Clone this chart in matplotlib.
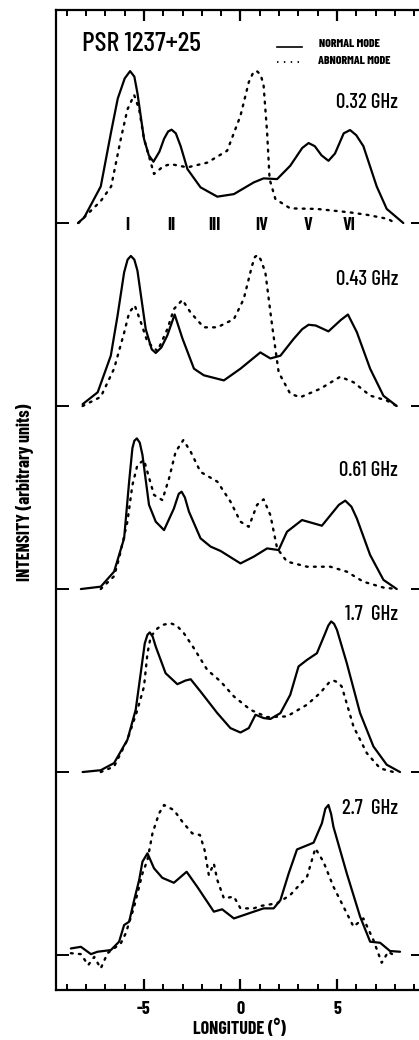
import matplotlib
matplotlib.use("Agg")
import matplotlib.pyplot as plt
import numpy as np

FONT = ['Barlow Condensed', 'DejaVu Sans']

# ---- data (longitude in degrees, intensity in arbitrary units) ----
freq_labels = ["0.32 GHz", "0.43 GHz", "0.61 GHz", "1.7  GHz", "2.7  GHz"]
component_labels = ["I", "II", "III", "IV", "V", "VI"]
component_lon = [-5.85, -3.57, -1.35, 1.09, 3.52, 5.65]
xtick_values = [-5, 0, 5]
xtick_labels = ["-5", "0", "5"]

# 0.32 GHz
n032_lon = [-8.42, -8.1, -7.24, -6.7, -6.36, -6.0, -5.72, -5.5, -5.34, -5.0, -4.75, -4.51, -4.2, -3.96,
            -3.75, -3.57, -3.35, -3.1, -2.75, -2.07, -1.2, -0.34, 0.69, 1.2, 1.9, 2.58, 3.2, 3.53,
            3.85, 4.2, 4.56, 4.9, 5.35, 5.68, 6.0, 6.37, 7.06, 7.58, 8.44]
n032_int = [0.0, 0.03, 0.20, 0.50, 0.68, 0.79, 0.83, 0.80, 0.71, 0.46, 0.37, 0.335, 0.39, 0.46,
            0.50, 0.51, 0.49, 0.42, 0.295, 0.195, 0.144, 0.158, 0.222, 0.244, 0.24, 0.313, 0.41, 0.437,
            0.42, 0.37, 0.34, 0.38, 0.49, 0.508, 0.48, 0.42, 0.20, 0.077, 0.0]
a032_lon = [-8.4, -7.24, -6.7, -6.2, -5.86, -5.51, -5.25, -5.0, -4.48, -4.0, -3.62, -2.75, -1.72,
            -0.69, 0.0, 0.43, 0.65, 0.83, 1.05, 1.2, 1.38, 1.51, 1.81, 2.58, 3.96, 5.68, 6.55, 7.66, 8.0]
a032_int = [0.0, 0.12, 0.20, 0.46, 0.62, 0.70, 0.62, 0.46, 0.268, 0.31, 0.322, 0.304, 0.33,
            0.395, 0.586, 0.769, 0.82, 0.832, 0.81, 0.75, 0.496, 0.24, 0.131, 0.08, 0.077, 0.058, 0.045,
            0.022, 0.0]

# 0.43 GHz
n043_lon = [-8.18, -7.4, -6.72, -6.37, -6.03, -5.85, -5.68, -5.5, -5.34, -4.91, -4.6, -4.39, -4.1,
            -3.79, -3.41, -3.01, -2.41, -1.9, -0.86, 0.0, 1.03, 1.55, 2.07, 2.75, 3.2, 3.53, 3.9, 4.56,
            5.2, 5.57, 6.03, 6.72, 7.41, 8.1]
n043_int = [0.01, 0.075, 0.275, 0.494, 0.73, 0.80, 0.82, 0.80, 0.74, 0.42, 0.31, 0.29, 0.32,
            0.386, 0.50, 0.37, 0.204, 0.168, 0.14, 0.204, 0.293, 0.26, 0.275, 0.366, 0.42, 0.444, 0.44,
            0.408, 0.47, 0.50, 0.404, 0.204, 0.056, 0.0]
a043_lon = [-8.18, -7.24, -6.55, -6.03, -5.77, -5.48, -5.17, -4.82, -4.3, -3.79, -3.45, -3.01, -2.58,
            -1.9, -1.2, -0.34, 0.17, 0.6, 0.75, 0.89, 1.05, 1.29, 1.64, 1.98, 2.58, 3.1, 4.13, 5.17,
            5.86, 6.72, 7.58, 8.1]
a043_int = [0.0, 0.05, 0.204, 0.40, 0.51, 0.55, 0.46, 0.35, 0.30, 0.42, 0.53, 0.58, 0.51,
            0.43, 0.43, 0.475, 0.585, 0.767, 0.815, 0.825, 0.80, 0.73, 0.44, 0.184, 0.067, 0.048,
            0.094, 0.16, 0.13, 0.057, 0.03, 0.0]

# 0.61 GHz
n061_lon = [-8.27, -7.24, -6.55, -6.03, -5.77, -5.6, -5.5, -5.37, -5.22, -5.08, -4.74, -4.39, -3.96,
            -3.45, -3.2, -3.05, -2.88, -2.67, -2.07, -1.55, -1.03, 0.0, 0.69, 1.38, 1.98, 2.41, 3.19,
            4.22, 5.1, 5.43, 5.75, 6.03, 6.72, 7.41, 8.1]
n061_int = [0.0, 0.013, 0.095, 0.277, 0.587, 0.77, 0.81, 0.823, 0.80, 0.733, 0.46, 0.368, 0.322,
            0.44, 0.52, 0.532, 0.50, 0.423, 0.277, 0.232, 0.208, 0.14, 0.177, 0.222, 0.213, 0.313, 0.377,
            0.346, 0.46, 0.483, 0.45, 0.386, 0.186, 0.05, 0.0]
a061_lon = [-7.24, -6.55, -6.29, -5.86, -5.6, -5.34, -5.0, -4.48, -4.05, -3.7, -3.36, -2.96, -2.58,
            -2.07, -1.2, -0.52, 0.0, 0.43, 0.86, 1.2, 1.55, 1.9, 2.41, 3.45, 4.65, 5.51, 6.37, 7.41, 8.1]
a061_int = [0.0, 0.07, 0.168, 0.368, 0.568, 0.678, 0.705, 0.514, 0.486, 0.605, 0.75, 0.814, 0.75,
            0.64, 0.587, 0.478, 0.368, 0.34, 0.46, 0.49, 0.404, 0.222, 0.15, 0.122, 0.122, 0.095, 0.04,
            0.008, 0.0]

# 1.7 GHz
n17_lon = [-8.18, -7.24, -6.55, -5.86, -5.43, -5.17, -4.96, -4.82, -4.7, -4.55, -4.39, -3.88, -3.27,
           -2.85, -2.58, -2.07, -1.2, -0.52, 0.0, 0.43, 0.78, 1.2, 1.55, 2.07, 2.58, 3.01, 3.45, 3.96,
           4.39, 4.55, 4.7, 4.85, 5.0, 5.51, 6.2, 6.89, 7.58, 8.27]
n17_int = [0.0, 0.01, 0.049, 0.176, 0.34, 0.54, 0.703, 0.75, 0.763, 0.74, 0.685, 0.54, 0.48,
           0.50, 0.507, 0.44, 0.322, 0.24, 0.216, 0.24, 0.313, 0.295, 0.29, 0.322, 0.422, 0.577, 0.613,
           0.649, 0.758, 0.80, 0.823, 0.81, 0.777, 0.595, 0.322, 0.14, 0.04, 0.0]
a17_lon = [-7.24, -6.55, -5.86, -5.34, -5.0, -4.82, -4.65, -4.3, -4.0, -3.62, -3.3, -2.93, -2.41,
           -1.72, -1.03, -0.34, 0.52, 1.38, 2.41, 3.45, 4.13, 4.6, 4.82, 5.05, 5.25, 5.86, 6.55,
           7.24, 7.93]
a17_int = [0.0, 0.03, 0.176, 0.34, 0.466, 0.649, 0.74, 0.785, 0.805, 0.813, 0.80, 0.758, 0.676,
           0.558, 0.495, 0.413, 0.34, 0.30, 0.304, 0.368, 0.432, 0.49, 0.50, 0.49, 0.467, 0.248, 0.103,
           0.02, 0.0]

# 2.7 GHz
n27_lon = [-8.79, -8.27, -7.75, -7.41, -6.72, -6.29, -6.03, -5.77, -5.51, -5.25, -5.08, -4.82, -4.48,
           -4.05, -3.45, -2.79, -2.24, -1.38, -0.95, -0.34, 0.69, 1.2, 1.72, 2.07, 2.5, 2.93, 3.79,
           4.22, 4.4, 4.56, 4.7, 4.82, 5.51, 6.2, 6.72, 7.24, 7.75, 8.27]
n27_int = [0.036, 0.045, 0.005, 0.018, 0.027, 0.073, 0.164, 0.182, 0.30, 0.41, 0.51, 0.556, 0.474,
           0.422, 0.395, 0.455, 0.373, 0.237, 0.25, 0.20, 0.237, 0.255, 0.255, 0.30, 0.446, 0.577, 0.614,
           0.72, 0.80, 0.82, 0.77, 0.70, 0.446, 0.21, 0.073, 0.067, 0.022, 0.018]
a27_lon = [-8.79, -8.27, -7.89, -7.58, -7.24, -6.89, -6.2, -5.94, -5.51, -5.08, -4.82, -4.56, -4.22,
           -3.96, -3.45, -3.01, -2.5, -2.1, -1.86, -1.64, -1.38, -1.2, -0.86, -0.34, 0.0, 0.69, 1.03,
           1.9, 2.58, 3.45, 3.88, 4.3, 4.82, 5.34, 5.86, 6.37, 6.89, 7.32, 7.66, 8.1]
a27_int = [0.01, 0.005, -0.055, -0.01, -0.073, 0.01, 0.064, 0.12, 0.264, 0.446, 0.519, 0.665, 0.774,
           0.82, 0.792, 0.728, 0.665, 0.656, 0.574, 0.437, 0.50, 0.41, 0.31, 0.319, 0.255, 0.255, 0.268,
           0.283, 0.328, 0.428, 0.583, 0.51, 0.373, 0.264, 0.155, 0.20, 0.082, -0.042, 0.018, -0.01]

normal_lon = [n032_lon, n043_lon, n061_lon, n17_lon, n27_lon]
normal_int = [n032_int, n043_int, n061_int, n17_int, n27_int]
abnormal_lon = [a032_lon, a043_lon, a061_lon, a17_lon, a27_lon]
abnormal_int = [a032_int, a043_int, a061_int, a17_int, a27_int]

# ---- figure ----
W, H = 419, 1040
fig = plt.figure(figsize=(W / 100, H / 100), dpi=100)
ax_left, ax_right, ax_top, ax_bot = 56, 423, 10, 990
ax = fig.add_axes([ax_left / W, 1 - ax_bot / H, (ax_right - ax_left) / W, (ax_bot - ax_top) / H])

n_panels = len(freq_labels)
offsets = [n_panels - 1 - i for i in range(n_panels)]  # top panel highest

DOT = (0, (0.8, 2.6))
for i in range(n_panels):
    off = offsets[i]
    ax.plot(normal_lon[i], np.asarray(normal_int[i]) + off, color='black', lw=1.6,
            solid_joinstyle='round', solid_capstyle='round')
    ax.plot(abnormal_lon[i], np.asarray(abnormal_int[i]) + off, color='black', lw=1.7,
            linestyle=DOT, dash_capstyle='round')

ax.set_xlim(-9.56, 9.46)
ax.set_ylim(-0.191, 5.164)

for s in ['left', 'bottom', 'top']:
    ax.spines[s].set_linewidth(1.6)
ax.spines['right'].set_visible(False)

ax.set_xticks(xtick_values)
ax.set_xticklabels(xtick_labels, fontfamily=FONT, fontweight='bold', fontsize=13)
ax.set_xticks(np.arange(-9, 10, 1), minor=True)
ax.tick_params(axis='x', which='major', direction='in', length=8, width=1.6, top=True, bottom=True, pad=8)
ax.tick_params(axis='x', which='minor', direction='in', length=4, width=1.4, top=True, bottom=True)
ax.set_yticks(offsets)
ax.set_yticklabels([])
ax.tick_params(axis='y', which='major', direction='in', length=9, width=1.4, left=True, right=True)

ax.set_xlabel("LONGITUDE (°)", fontfamily=FONT, fontweight='bold', fontsize=13, labelpad=1)
fig.text(25 / W, 1 - 492 / H, "INTENSITY (arbitrary units)", rotation=90, ha='center', va='center',
         fontfamily=FONT, fontweight='bold', fontsize=13)

# titles and labels
fig.text(82 / W, 1 - 44 / H, "PSR 1237+25", ha='left', va='center', fontfamily=FONT,
         fontweight='medium', fontsize=20)
ax.plot([1.91, 3.2], [4.96, 4.96], color='black', lw=1.2)
ax.plot([1.91, 3.2], [4.88, 4.88], color='black', lw=1.3, linestyle=(0, (0.8, 3.0)))
fig.text(319 / W, 1 - 44 / H, "NORMAL MODE", ha='left', va='center', fontfamily=FONT,
         fontweight='heavy', fontsize=8.5)
fig.text(318 / W, 1 - 61 / H, "ABNORMAL MODE", ha='left', va='center', fontfamily=FONT,
         fontweight='heavy', fontsize=8.5)

freq_y_px = [102, 280, 470, 615, 808]
for lab, ypx in zip(freq_labels, freq_y_px):
    fig.text(398 / W, 1 - ypx / H, lab, ha='right', va='center', fontfamily=FONT,
             fontweight='medium', fontsize=15)

for lab, lon in zip(component_labels, component_lon):
    ax.text(lon, offsets[0] - 0.015, lab, ha='center', va='center', fontfamily=FONT,
            fontweight='bold', fontsize=13)

fig.savefig("out.png", dpi=100)
